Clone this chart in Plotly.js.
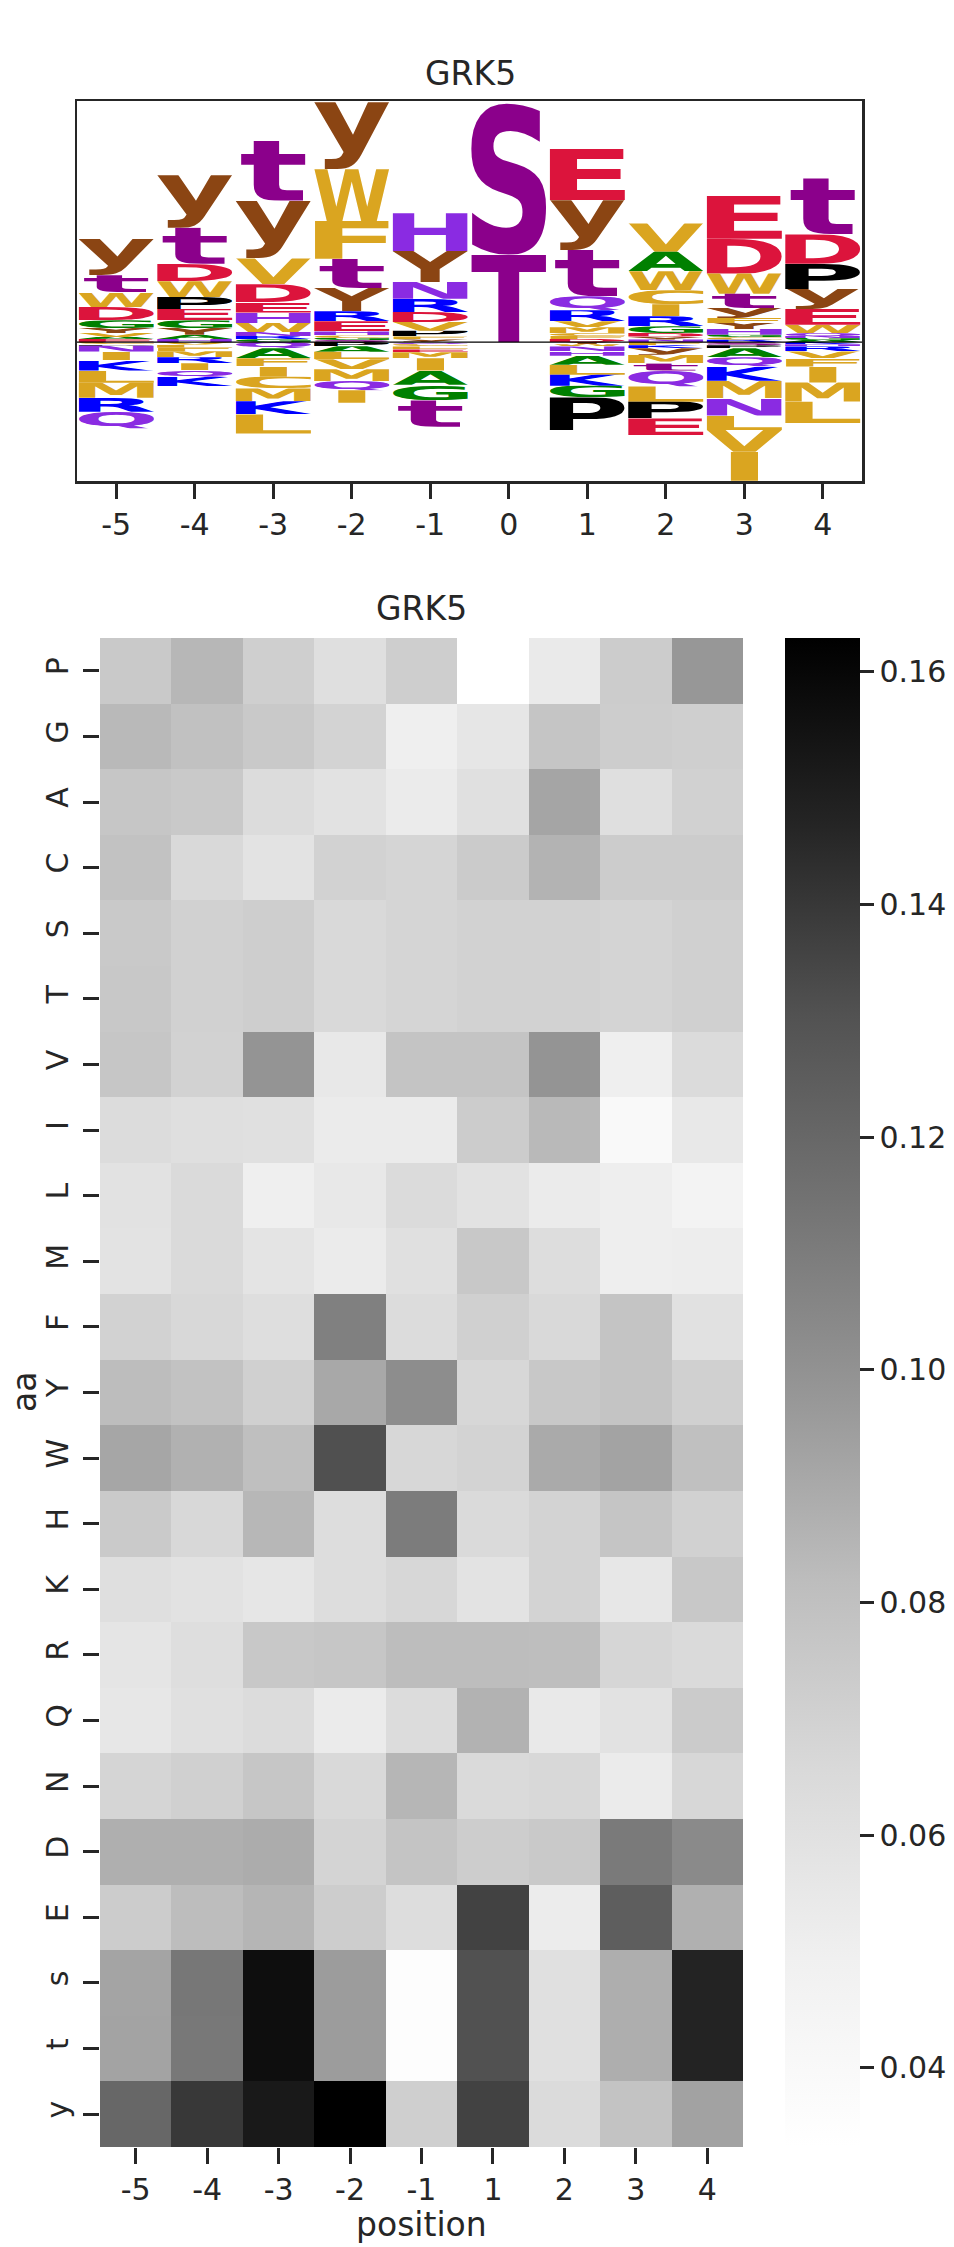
<!doctype html>
<html>
<head>
  <meta charset="utf-8">
  <title>GRK5</title>
  <script src="https://cdn.plot.ly/plotly-3.0.1.min.js"></script>
  <style>
    body { margin: 0; background: #fff; overflow: hidden; }
    #chart { width: 954px; height: 2247px; }
  </style>
</head>
<body>
  <div id="chart"></div>
  <script>
    // ---- logo data (letters listed from the top of each stack downwards) ----
    var positions = [-5, -4, -3, -2, -1, 0, 1, 2, 3, 4];

    var upLetters = ['ytWDGYVAE', 'ytDWPEGYAH', 'tyVDEHWNRG', 'yWFtYREHCGS', 'HYNRDVPFy',
                     'ST', 'EytQRVMCFD', 'VAWCIRGDYN', 'EDWtyFYHGCR', 'tDPyEWQNGA'];
    var upHeights = [
      [0.363, 0.17, 0.147, 0.133, 0.077, 0.05, 0.04, 0.02, 0.03],
      [0.523, 0.36, 0.173, 0.157, 0.12, 0.113, 0.077, 0.067, 0.043, 0.03],
      [0.597, 0.577, 0.257, 0.177, 0.105, 0.105, 0.09, 0.04, 0.03, 0.03],
      [0.667, 0.517, 0.377, 0.29, 0.233, 0.1, 0.1, 0.04, 0.025, 0.022, 0.02],
      [0.377, 0.31, 0.167, 0.13, 0.1, 0.087, 0.057, 0.03, 0.027],
      [1.517, 0.873],
      [0.51, 0.497, 0.46, 0.14, 0.11, 0.06, 0.057, 0.03, 0.03, 0.03],
      [0.283, 0.193, 0.19, 0.14, 0.12, 0.1, 0.067, 0.035, 0.03, 0.025],
      [0.433, 0.347, 0.2, 0.143, 0.1, 0.05, 0.06, 0.057, 0.025, 0.025, 0.023],
      [0.557, 0.293, 0.25, 0.2, 0.157, 0.083, 0.03, 0.02, 0.02, 0.02]
    ];

    // below zero, listed from the zero line downwards
    var downLetters = ['CPNIKLMRQ', 'VLFMRIQK', 'QAFICMKL', 'PALVMQI', 'QCLEMIAGt',
                       '', 'YWNHALKGP', 'FKyMtQLPE', 'SPAQKMNLVI', 'KHRVFIML'];
    var downHeights = [
      [0.02, 0.017, 0.057, 0.083, 0.107, 0.12, 0.15, 0.14, 0.167],
      [0.025, 0.03, 0.035, 0.06, 0.06, 0.067, 0.067, 0.093],
      [0.06, 0.1, 0.077, 0.107, 0.117, 0.127, 0.133, 0.19],
      [0.04, 0.057, 0.073, 0.1, 0.117, 0.093, 0.123],
      [0.02, 0.023, 0.03, 0.027, 0.06, 0.123, 0.143, 0.15, 0.267],
      [],
      [0.02, 0.023, 0.05, 0.043, 0.09, 0.1, 0.11, 0.117, 0.323],
      [0.03, 0.03, 0.067, 0.083, 0.073, 0.16, 0.15, 0.167, 0.167],
      [0.03, 0.03, 0.09, 0.093, 0.143, 0.173, 0.173, 0.143, 0.217, 0.29],
      [0.02, 0.023, 0.05, 0.067, 0.083, 0.16, 0.19, 0.217]
    ];

    // ---- heatmap data ----
    var aminoAcids = ['P', 'G', 'A', 'C', 'S', 'T', 'V', 'I', 'L', 'M', 'F', 'Y',
                      'W', 'H', 'K', 'R', 'Q', 'N', 'D', 'E', 's', 't', 'y'];
    var heatPositions = ['-5', '-4', '-3', '-2', '-1', '1', '2', '3', '4'];
    var heatValues = [
      [0.0750, 0.0845, 0.0715, 0.0615, 0.0721, 0.0332, 0.0538, 0.0733, 0.0977],
      [0.0837, 0.0796, 0.0750, 0.0692, 0.0503, 0.0566, 0.0773, 0.0727, 0.0715],
      [0.0767, 0.0750, 0.0636, 0.0594, 0.0531, 0.0608, 0.0919, 0.0615, 0.0704],
      [0.0790, 0.0657, 0.0587, 0.0698, 0.0681, 0.0738, 0.0858, 0.0733, 0.0733],
      [0.0750, 0.0704, 0.0721, 0.0657, 0.0681, 0.0698, 0.0698, 0.0687, 0.0710],
      [0.0752, 0.0702, 0.0720, 0.0658, 0.0680, 0.0697, 0.0699, 0.0688, 0.0711],
      [0.0767, 0.0698, 0.0990, 0.0552, 0.0779, 0.0779, 0.0990, 0.0503, 0.0643],
      [0.0636, 0.0615, 0.0608, 0.0531, 0.0531, 0.0733, 0.0833, 0.0396, 0.0552],
      [0.0594, 0.0650, 0.0503, 0.0552, 0.0643, 0.0594, 0.0531, 0.0510, 0.0460],
      [0.0587, 0.0650, 0.0580, 0.0531, 0.0608, 0.0756, 0.0629, 0.0510, 0.0517],
      [0.0698, 0.0664, 0.0622, 0.1082, 0.0636, 0.0710, 0.0657, 0.0779, 0.0601],
      [0.0819, 0.0790, 0.0710, 0.0907, 0.1022, 0.0670, 0.0756, 0.0779, 0.0710],
      [0.0915, 0.0870, 0.0807, 0.1311, 0.0670, 0.0692, 0.0899, 0.0928, 0.0802],
      [0.0744, 0.0664, 0.0845, 0.0629, 0.1100, 0.0650, 0.0692, 0.0773, 0.0704],
      [0.0615, 0.0594, 0.0566, 0.0629, 0.0670, 0.0587, 0.0692, 0.0559, 0.0756],
      [0.0573, 0.0622, 0.0756, 0.0767, 0.0819, 0.0819, 0.0813, 0.0675, 0.0650],
      [0.0559, 0.0608, 0.0636, 0.0531, 0.0636, 0.0866, 0.0545, 0.0594, 0.0738],
      [0.0681, 0.0710, 0.0767, 0.0657, 0.0849, 0.0650, 0.0664, 0.0531, 0.0670],
      [0.0878, 0.0878, 0.0887, 0.0687, 0.0779, 0.0727, 0.0750, 0.1110, 0.1036],
      [0.0733, 0.0819, 0.0853, 0.0727, 0.0629, 0.1361, 0.0524, 0.1244, 0.0874],
      [0.0924, 0.1123, 0.1568, 0.0957, 0.0351, 0.1307, 0.0608, 0.0882, 0.1477],
      [0.0926, 0.1121, 0.1566, 0.0955, 0.0349, 0.1309, 0.0610, 0.0880, 0.1475],
      [0.1200, 0.1400, 0.1520, 0.1629, 0.0715, 0.1361, 0.0643, 0.0784, 0.0932]
    ];
    var colorTicks = [0.04, 0.06, 0.08, 0.10, 0.12, 0.14, 0.16];

    // ---- styles ----
    var ink = '#262626';
    var gold = '#DAA520';
    var letterColors = {
      y: '#8B4513', Y: '#8B4513',
      s: '#8B008B', t: '#8B008B', S: '#8B008B', T: '#8B008B',
      D: '#DC143C', E: '#DC143C',
      K: '#0000FF', R: '#0000FF',
      H: '#8A2BE2', N: '#8A2BE2', Q: '#8A2BE2',
      A: '#008000', G: '#008000',
      P: '#000000',
      W: gold, F: gold, V: gold, L: gold, I: gold, M: gold, C: gold
    };
    var greys = [[0, '#ffffff'], [0.125, '#f0f0f0'], [0.25, '#d9d9d9'], [0.375, '#bdbdbd'],
                 [0.5, '#969696'], [0.625, '#737373'], [0.75, '#525252'], [0.875, '#252525'], [1, '#000000']];

    // measure the ink box of a glyph so it can be stretched to fill its slot
    var mctx = document.createElement('canvas').getContext('2d');
    mctx.font = "bold 200px 'DejaVu Sans'";
    function inkBox(ch) {
      var m = mctx.measureText(ch);
      return { left: m.actualBoundingBoxLeft, right: m.actualBoundingBoxRight,
               ascent: m.actualBoundingBoxAscent, descent: m.actualBoundingBoxDescent };
    }
    function glyphSource(ch, color) {
      var b = inkBox(ch);
      var w = b.left + b.right, h = b.ascent + b.descent;
      var svg = '<svg xmlns="http://www.w3.org/2000/svg" width="' + w + '" height="' + h +
        '" viewBox="' + (-b.left) + ' ' + (-b.ascent) + ' ' + w + ' ' + h + '" preserveAspectRatio="none">' +
        '<text x="0" y="0" font-family="DejaVu Sans" font-weight="bold" font-size="200" fill="' + color + '">' +
        ch + '</text></svg>';
      return 'data:image/svg+xml;charset=utf-8,' + encodeURIComponent(svg);
    }

    var slot = 0.96;
    var eBox = inkBox('E');
    var eWidth = eBox.left + eBox.right;
    var images = [];

    function addGlyph(ch, pos, yTop, h) {
      var b = inkBox(ch);
      // like logomaker: never stretch a glyph wider than 'E' would be
      var w = slot * Math.min(1, (b.left + b.right) / eWidth);
      images.push({
        source: glyphSource(ch, letterColors[ch]),
        xref: 'x', yref: 'y', x: pos - w / 2, y: yTop, sizex: w, sizey: h,
        xanchor: 'left', yanchor: 'top', sizing: 'stretch', layer: 'above'
      });
    }

    positions.forEach(function(pos, i) {
      var ups = upLetters[i].split('');
      var top = upHeights[i].reduce(function(a, b) { return a + b; }, 0);
      ups.forEach(function(ch, j) {
        addGlyph(ch, pos, top, upHeights[i][j]);
        top -= upHeights[i][j];
      });
      var downs = downLetters[i].split('');
      var yTop = 0;
      downs.forEach(function(ch, j) {
        addGlyph(ch, pos, yTop, downHeights[i][j]);
        yTop -= downHeights[i][j];
      });
    });

    // figure geometry in pixels of the 954 x 2247 page
    var W = 954, H = 2247;
    function px(v) { return v / W; }
    function py(v) { return 1 - v / H; }

    var anchorTrace = {
      x: positions, y: positions.map(function() { return 0; }),
      type: 'scatter', mode: 'markers', marker: { opacity: 0 },
      hoverinfo: 'skip', showlegend: false, xaxis: 'x', yaxis: 'y'
    };

    var heat = {
      type: 'heatmap', z: heatValues, x: heatPositions, y: aminoAcids,
      xaxis: 'x2', yaxis: 'y2', colorscale: greys,
      colorbar: {
        x: px(785), xanchor: 'left', thickness: 75, thicknessmode: 'pixels',
        y: py(2147), yanchor: 'bottom', len: (2147 - 638) / H, lenmode: 'fraction',
        outlinewidth: 0, xpad: 0, ypad: 0,
        ticks: 'outside', ticklen: 14, tickwidth: 3, tickcolor: ink,
        tickvals: colorTicks, ticktext: colorTicks.map(function(v) { return v.toFixed(2); }),
        tickfont: { size: 30, color: ink }
      }
    };

    var layout = {
      width: W, height: H,
      margin: { l: 0, r: 0, t: 0, b: 0 },
      paper_bgcolor: '#fff', plot_bgcolor: '#fff',
      font: { family: 'DejaVu Sans', color: ink },
      showlegend: false,
      xaxis: {
        domain: [px(77), px(862)], anchor: 'y', range: [-5.5, 4.5],
        tickvals: positions, ticktext: positions.map(String),
        ticks: 'outside', ticklen: 15, tickwidth: 3, tickcolor: ink,
        tickfont: { size: 30 }, showline: true, linewidth: 2.5, linecolor: ink, mirror: true,
        showgrid: false, zeroline: false, fixedrange: true
      },
      yaxis: {
        domain: [py(481), py(101)], anchor: 'x', range: [-1.384, 2.403],
        showticklabels: false, ticks: '', showline: true, linewidth: 2.5, linecolor: ink,
        mirror: true, showgrid: false, zeroline: false, fixedrange: true
      },
      xaxis2: {
        domain: [px(100), px(743)], anchor: 'y2', type: 'category',
        ticks: 'outside', ticklen: 16, tickwidth: 3, tickcolor: ink,
        tickfont: { size: 30 }, showline: false, showgrid: false, zeroline: false
      },
      yaxis2: {
        domain: [py(2147), py(638)], anchor: 'x2', type: 'category', autorange: 'reversed',
        ticks: 'outside', ticklen: 16, tickwidth: 3, tickcolor: ink, tickangle: -90,
        ticklabelstandoff: 3,
        tickfont: { size: 30 }, showline: false, showgrid: false, zeroline: false
      },
      images: images,
      shapes: [{
        type: 'line', xref: 'x domain', yref: 'y', x0: 0, x1: 1, y0: 0, y1: 0,
        line: { color: '#000', width: 1.3 }, layer: 'above'
      }],
      annotations: [
        { text: 'GRK5', xref: 'paper', yref: 'paper', x: px(470), y: py(73),
          showarrow: false, font: { size: 33 }, xanchor: 'center', yanchor: 'middle' },
        { text: 'GRK5', xref: 'paper', yref: 'paper', x: px(421.5), y: py(608),
          showarrow: false, font: { size: 33 }, xanchor: 'center', yanchor: 'middle' },
        { text: 'aa', xref: 'paper', yref: 'paper', x: px(24), y: py(1392), textangle: -90,
          showarrow: false, font: { size: 33 }, xanchor: 'center', yanchor: 'middle', borderpad: 0 },
        { text: 'position', xref: 'paper', yref: 'paper', x: px(421.5), y: py(2224),
          showarrow: false, font: { size: 33 }, xanchor: 'center', yanchor: 'middle', borderpad: 0 }
      ]
    };

    Plotly.newPlot('chart', [anchorTrace, heat], layout, { displayModeBar: false, staticPlot: true });
  </script>
</body>
</html>
